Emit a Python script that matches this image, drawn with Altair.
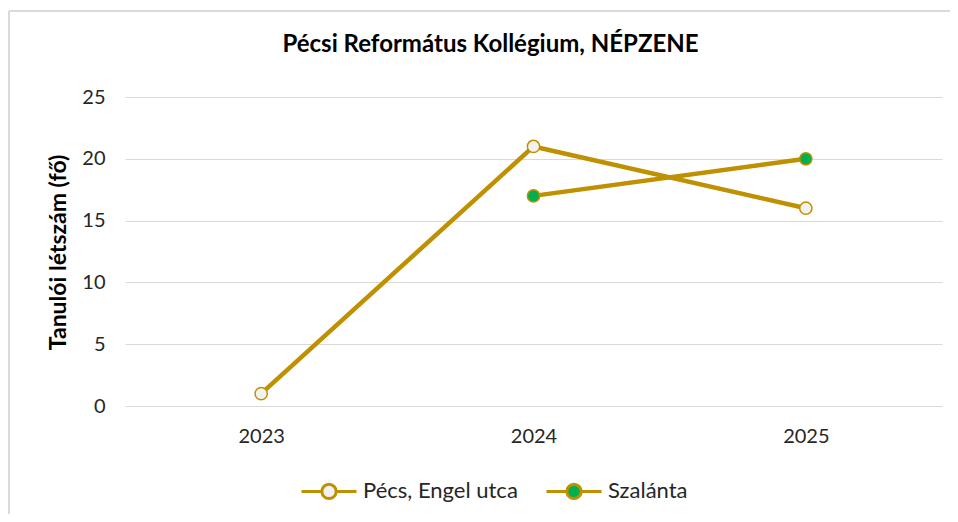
import altair as alt
import pandas as pd

years = ["2023", "2024", "2025"]
series_names = ["Pécs, Engel utca", "Szalánta"]
pecs_values = [1, 21, 16]
szalanta_values = [None, 17, 20]

rows = []
for y, v in zip(years, pecs_values):
    rows.append({"year": y, "series": series_names[0], "value": v})
for y, v in zip(years, szalanta_values):
    if v is not None:
        rows.append({"year": y, "series": series_names[1], "value": v})
df = pd.DataFrame(rows)

GOLD = "#BF9000"
FONT = "Lato"

x = alt.X("year:O", scale=alt.Scale(type="point", padding=0.5),
          axis=alt.Axis(title=None, labelAngle=0, domain=False, ticks=False,
                        labelFontSize=20, labelColor="#262626", labelPadding=20))
y = alt.Y("value:Q", scale=alt.Scale(domain=[0, 25]),
          axis=alt.Axis(title="Tanulói létszám (fő)", values=[0, 5, 10, 15, 20, 25],
                        domain=False, ticks=False, gridColor="#d9d9d9",
                        labelFontSize=20, labelColor="#262626", labelPadding=20,
                        titleFontSize=23, titleFontWeight="bold", titleColor="#000000",
                        titleX=-67, titleY=155, titleAngle=-90,
                        titleAlign="center", titleBaseline="middle"))

lines = alt.Chart(df).mark_line(color=GOLD, strokeWidth=4.5).encode(
    x=x, y=y, detail="series:N")

legend_symbol = ("M-1,0L-0.26,0 M0.26,0 A0.26,0.26 0 1,1 -0.26,0 "
                 "A0.26,0.26 0 1,1 0.26,0 Z M0.26,0 L1,0")

points = alt.Chart(df).mark_point(filled=True, size=150, stroke=GOLD,
                                  strokeWidth=1.5, opacity=1).encode(
    x=x, y=y,
    fill=alt.Fill("series:N",
                  scale=alt.Scale(domain=series_names, range=["#F2F2F2", "#00B050"]),
                  legend=alt.Legend(title=None, orient="none", direction="horizontal",
                                    legendX=175, legendY=365, padding=0,
                                    symbolType=legend_symbol, symbolSize=3025,
                                    symbolStrokeColor=GOLD, symbolStrokeWidth=3,
                                    symbolOpacity=1,
                                    labelFontSize=22, labelColor="#262626",
                                    labelOffset=5, columnPadding=22)),
)

border = alt.Chart(df).mark_rect(fill=None, stroke="#d9d9d9", strokeWidth=1).encode(
    x=alt.value(-116), x2=alt.value(830), y=alt.value(-86), y2=alt.value(430))

chart = alt.layer(border, lines, points).properties(
    width=817, height=309,
    title=alt.TitleParams("Pécsi Református Kollégium, NÉPZENE", fontSize=24,
                          fontWeight="bold", color="#000000", offset=0, dy=46, dx=-43,
                          anchor="middle", font=FONT),
    autosize=alt.AutoSizeParams(type="none"),
    padding={"left": 117, "top": 89, "right": 8, "bottom": 108},
).configure(font=FONT).configure_view(stroke=None).configure_axis(
    labelFont=FONT, titleFont=FONT).configure_legend(labelFont=FONT)

chart.save("out.html", embed_options={"renderer": "svg", "actions": False})
